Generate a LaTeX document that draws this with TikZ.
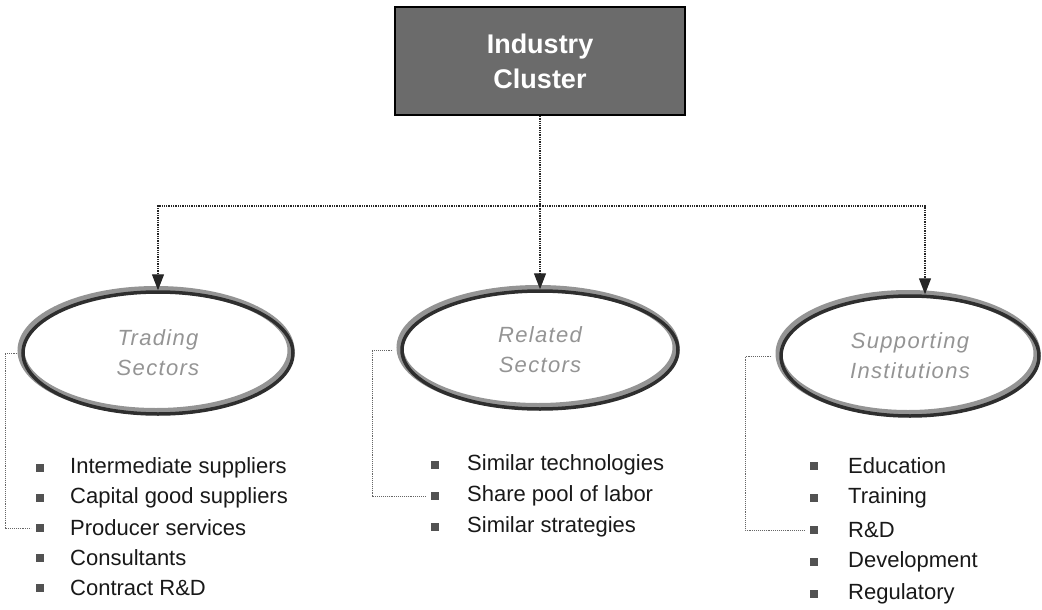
\documentclass[tikz,border=0pt]{standalone}
\usepackage{fontspec}
\setmainfont{Liberation Sans}
\usetikzlibrary{shapes.geometric,arrows.meta}
\begin{document}
\begin{tikzpicture}[x=1pt,y=-1pt,
  conn/.style={densely dotted, line width=1.3pt, black!85},
  arr/.style={conn, -{Triangle[width=12pt,length=16pt]}},
  bracket/.style={densely dotted, line width=0.9pt, black!60},
  topbox/.style={draw=black, line width=1.8pt, fill=black!58, text=white,
    font=\fontsize{27}{35}\selectfont\bfseries, align=center,
    minimum width=290pt, minimum height=108pt, inner sep=0pt},
  sector/.style={ellipse, draw=black!82, line width=3.5pt, inner sep=0pt,
    align=center, text=black!42,
    font=\fontsize{22}{30}\selectfont\itshape\addfontfeatures{LetterSpace=6},
    preaction={draw=black!42, line width=7pt,
      transform canvas={xshift=-2pt, yshift=2.5pt}}},
  item/.style={anchor=west, inner sep=0pt, font=\fontsize{22}{26}\selectfont, text=black!90},
  dot/.style={fill=black!68, minimum size=7.5pt, inner sep=0pt}
]
\useasboundingbox (0,0) rectangle (1042,610);

% top box
\node[topbox] (ic) at (540,61) {Industry\\Cluster};

% the three groups
\node[sector, minimum width=270pt, minimum height=122pt] (ts) at (158,353) {Trading\\Sectors};
\node[sector, minimum width=276pt, minimum height=118pt] (rs) at (540,350) {Related\\Sectors};
\node[sector, minimum width=258pt, minimum height=120pt] (ss) at (910,356) {Supporting\\Institutions};

% distribution lines
\coordinate (hub) at (540,206);
\draw[conn] (ic.south) -- (hub);
\draw[arr] (hub) -- (rs.north);
\draw[arr] (hub) -| (ts.north);
\draw[arr] (hub) -| ([xshift=15pt]ss.north);

% trading sectors list
\foreach \i/\txt in {1/Intermediate suppliers, 2/Capital good suppliers,
    3/Producer services, 4/Consultants, 5/{Contract R\&D}} {
  \node[dot] (tb\i) at (40,438+30*\i) {};
  \node[item] (tt\i) at (70,438+30*\i) {\txt};
}

% related sectors list
\foreach \i/\txt in {1/Similar technologies, 2/Share pool of labor, 3/Similar strategies} {
  \node[dot] (rb\i) at (435,434+31*\i) {};
  \node[item] (rt\i) at (467,434+31*\i) {\txt};
}

% supporting institutions list
\foreach \i/\txt in {1/Education, 2/Training, 3/{R\&D}, 4/Development, 5/Regulatory} {
  \node[dot] (sb\i) at (814,434+32*\i) {};
  \node[item] (st\i) at (848,434+32*\i) {\txt};
}

% brackets joining each group to its list
\draw[bracket] ([xshift=-4pt]ts.west) -- ++(-12,0) |- ([xshift=-5pt]tb3.west);
\draw[bracket] ([xshift=-8pt]rs.west) -- ++(-20,0) |- ([xshift=-5pt]rb2.west);
\draw[bracket] ([xshift=-8pt]ss.west) -- ++(-26,0) |- ([xshift=-5pt]sb3.west);
\end{tikzpicture}
\end{document}
